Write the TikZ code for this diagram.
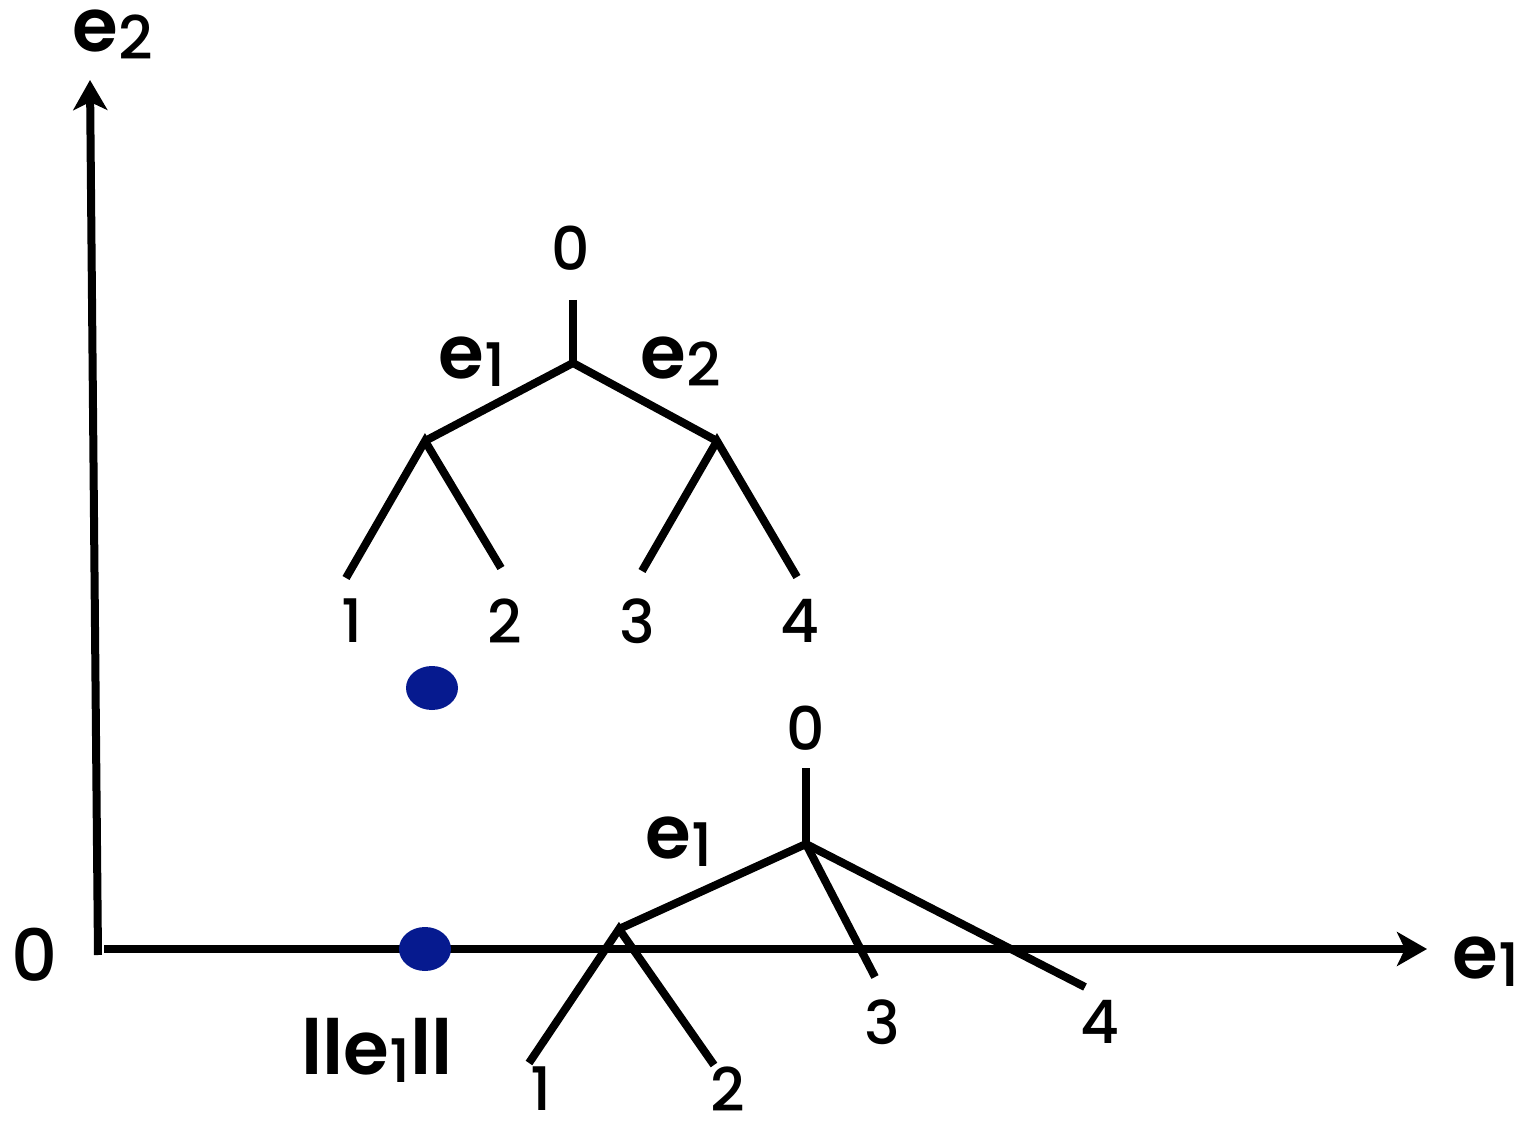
\documentclass[tikz,border=0pt]{standalone}
\usepackage{fontspec}
\setmainfont{Poppins}[UprightFont=* Medium, BoldFont=* SemiBold]
\usetikzlibrary{arrows.meta,shapes.geometric}
\newcommand{\ev}[1]{{\fontsize{37}{40}\selectfont\bfseries e}{\fontsize{30}{32}\selectfont\raisebox{-4pt}{#1}}}
\definecolor{dotblue}{RGB}{6,26,143}
\tikzset{
  edge/.style={line width=4pt},
  axis/.style={line width=4pt,-{Stealth[length=15pt,width=17pt,inset=4pt]}},
  lbl/.style={font=\fontsize{30}{32}\selectfont, inner sep=0pt},
  dot/.style={fill=dotblue, draw=none, ellipse, minimum width=26pt, minimum height=22pt}
}
\begin{document}
\begin{tikzpicture}[x=0.5pt,y=-0.5pt]
\useasboundingbox (0,0) rectangle (1522,1123);
% axes
\coordinate (O) at (98,955);
\coordinate (Ytip) at (90,80);
\coordinate (Xs) at (104,949);
\coordinate (Xtip) at (1427,949);
\draw[axis] (O) -- (Ytip);
\draw[axis] (Xs) -- (Xtip);
\node[lbl, font=\fontsize{36}{38}\selectfont] (zero) at (35,955) {0};
\node[inner sep=0pt] (e2ax) at (113,35) {\ev{2}};
\node[inner sep=0pt] (e1ax) at (1486,962) {\ev{1}};
% dots
\node[dot] (d1) at (432,688) {};
\node[dot] (d2) at (425,949) {};
\node[inner sep=0pt] (norm) at (377,1050) {{\fontsize{38}{40}\selectfont\bfseries ll}\ev{1}{\fontsize{38}{40}\selectfont\bfseries ll}};
% top tree
\node[lbl] (t0) at (571,248) {0};
\coordinate (ts) at (573,300);
\coordinate (tr) at (573,363);
\coordinate (tl) at (425,441);
\coordinate (trr) at (717,441);
\coordinate (t1e) at (346,578);
\coordinate (t2e) at (501,568);
\coordinate (t3e) at (642,571);
\coordinate (t4e) at (797,577);
\draw[edge] (ts) -- (tr);
\draw[edge] (tl) -- (tr) -- (trr);
\draw[edge] (t1e) -- (tl) -- (t2e);
\draw[edge] (t3e) -- (trr) -- (t4e);
\node[lbl] (t1) at (352,621) {1};
\node[lbl] (t2) at (505,621) {2};
\node[lbl] (t3) at (637,621) {3};
\node[lbl] (t4) at (800,621) {4};
\node[inner sep=0pt] (te1) at (472,362) {\ev{1}};
\node[inner sep=0pt] (te2) at (681,362) {\ev{2}};
% bottom tree
\node[lbl] (b0) at (806,728) {0};
\coordinate (bs) at (806,768);
\coordinate (br) at (806,844);
\coordinate (bl) at (619,929);
\coordinate (b1e) at (529,1063);
\coordinate (b2e) at (714,1065);
\coordinate (b3e) at (875,977);
\coordinate (b4e) at (1085,987);
\draw[edge] (bs) -- (br);
\draw[edge] (bl) -- (br) -- (b4e);
\draw[edge] (br) -- (b3e);
\draw[edge] (b1e) -- (bl) -- (b2e);
\node[lbl] (b1) at (541,1089) {1};
\node[lbl] (b2) at (728,1089) {2};
\node[lbl] (b3) at (882,1022) {3};
\node[lbl] (b4) at (1100,1022) {4};
\node[inner sep=0pt] (be1) at (679,842) {\ev{1}};
\end{tikzpicture}
\end{document}
